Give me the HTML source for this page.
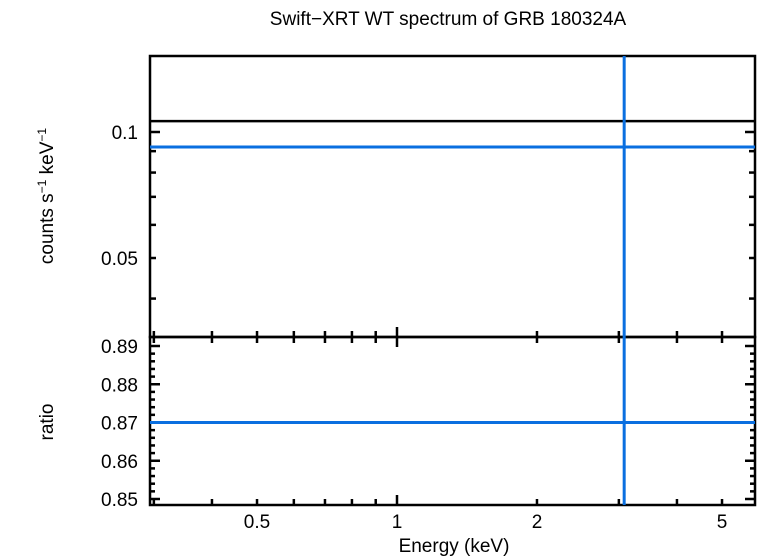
<!DOCTYPE html>
<html><head><meta charset="utf-8"><style>body{margin:0;background:#fff}svg{display:block}text{font-family:"Liberation Sans",sans-serif;fill:#000}</style></head>
<body>
<svg id="c" width="758" height="556"></svg>
<script>
const xTicksMinor=[0.3,0.4,0.5,0.6,0.7,0.8,0.9,2,3,4,5];
const xTicksMajor=[1];
const xTickLabels=[0.5,1,2,5];
const yTopMinor=[0.04,0.05,0.06,0.07,0.08,0.09];
const yTopMajor=[0.1];
const yTopLabels=[0.05,0.1];
const yBotLabels=[0.85,0.86,0.87,0.88,0.89];
const dataLevel=[0.0921];
const modelLevel=[0.1062];
const ratioLevel=[0.87];
const dataEnergy=[3.08];
const L=150,R=755,T=56,M=337,B=505;
const X=e=>397+465*Math.log10(e);
const YT=v=>132-418.6*Math.log10(v/0.1);
const YB=v=>422.5-(v-0.87)*3825;
const s=document.getElementById('c');const NS='http://www.w3.org/2000/svg';
function el(t,a,txt,name){const e=document.createElementNS(NS,t);for(const k in a)e.setAttribute(k,a[k]);if(txt!==undefined)e.textContent=txt;


s.appendChild(e);return e;}
function ln(x1,y1,x2,y2,c,w,n){return el('line',{x1,y1,x2,y2,stroke:c,'stroke-width':w},undefined,n);}
el('rect',{x:L,y:T,width:R-L,height:M-T,fill:'none',stroke:'#000','stroke-width':2.5},undefined,'top-panel-frame');
el('rect',{x:L,y:M,width:R-L,height:B-M,fill:'none',stroke:'#000','stroke-width':2.5},undefined,'bottom-panel-frame');
[[M,-1],[M,1],[B,-1]].forEach(([y,d])=>{
 xTicksMinor.forEach(e=>ln(X(e),y,X(e),y+d*6,'#000',2.5,'x-minor-tick'));
 xTicksMajor.forEach(e=>ln(X(e),y,X(e),y+d*10,'#000',2.5,'x-major-tick'));
});
xTickLabels.forEach(e=>el('text',{x:X(e),y:528,'font-size':19,'text-anchor':'middle'},String(e),'x-tick-label'));
[[L,1],[R,-1]].forEach(([x,d])=>{
 yTopMinor.forEach(v=>ln(x,YT(v),x+d*6,YT(v),'#000',2.5,'y-top-minor-tick'));
 yTopMajor.forEach(v=>ln(x,YT(v),x+d*10,YT(v),'#000',2.5,'y-top-major-tick'));
});
yTopLabels.forEach(v=>el('text',{x:138,y:YT(v)+7,'font-size':19,'text-anchor':'end'},String(v),'y-top-tick-label'));
[[L,1],[R,-1]].forEach(([x,d])=>{
 for(let i=0;i<=21;i++){const v=0.85+i*0.002-0.002;if(v<0.8484||v>0.8924)continue;const maj=Math.abs((v*100)-Math.round(v*100))<1e-6;
  ln(x,YB(v),x+d*(maj?10:5),YB(v),'#000',2.5,'y-bottom-tick');}
});
yBotLabels.forEach(v=>el('text',{x:138,y:YB(v)+7,'font-size':19,'text-anchor':'end'},v.toFixed(2),'y-bottom-tick-label'));
modelLevel.forEach(v=>ln(L,YT(v),R,YT(v),'#000',2.5,'model-line'));
dataLevel.forEach(v=>ln(L,YT(v),R,YT(v),'#0a6fe0',3,'data-level'));
ratioLevel.forEach(v=>ln(L,YB(v),R,YB(v),'#0a6fe0',3,'ratio-level'));
dataEnergy.forEach(e=>ln(X(e),T,X(e),B,'#0a6fe0',3,'data-energy-bin'));
el('text',{x:448,y:25,'font-size':19,'text-anchor':'middle'},'Swift−XRT WT spectrum of GRB 180324A','chart-title');
el('text',{x:454,y:552,'font-size':19,'text-anchor':'middle'},'Energy (keV)','x-axis-title');
const yt=el('text',{x:0,y:0,'font-size':19,'text-anchor':'middle',transform:'translate(53,196) rotate(-90)'},undefined,'y-top-axis-title');
yt.innerHTML='counts s<tspan font-size="12" dy="-7">−1</tspan><tspan dy="7"> keV</tspan><tspan font-size="12" dy="-7">−1</tspan>';
el('text',{x:0,y:0,'font-size':19,'text-anchor':'middle',transform:'translate(53,422) rotate(-90)'},'ratio','y-bottom-axis-title');
</script>
</body></html>
